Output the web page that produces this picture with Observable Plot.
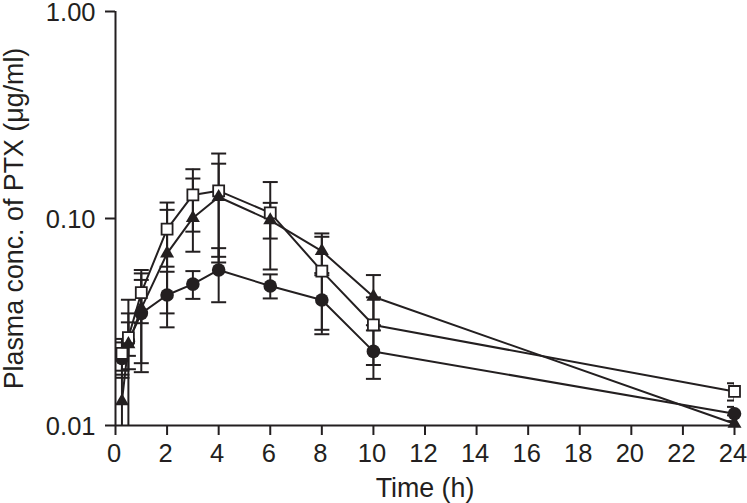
<!DOCTYPE html>
<html>
<head>
<meta charset="utf-8">
<script src="https://cdn.jsdelivr.net/npm/d3@7"></script>
<script src="https://cdn.jsdelivr.net/npm/@observablehq/plot@0.6"></script>
<style>
  html, body { margin: 0; padding: 0; background: #fff; }
</style>
</head>
<body>
<div id="chart"></div>
<script>
// Sampling times (h)
const times = [0.25, 0.5, 1, 2, 3, 4, 6, 8, 10, 24];

// Filled circles
const circleMean = [0.0211, 0.0255, 0.0348, 0.0427, 0.0482, 0.0564, 0.0472, 0.0404, 0.0228, 0.0114];
const circleLow  = [0.0170, 0.0187, 0.0181, 0.0298, 0.0409, 0.0394, 0.0411, 0.0276, 0.0168, 0.0105];
const circleHigh = [0.0252, 0.0348, 0.0505, 0.0553, 0.0557, 0.0719, 0.0537, 0.0532, 0.0288, 0.0123];

// Open squares
const squareMean = [0.0223, 0.0266, 0.0438, 0.0889, 0.1300, 0.1360, 0.1065, 0.0557, 0.0306, 0.0146];
const squareLow  = [0.0184, 0.0217, 0.0312, 0.0585, 0.0864, 0.0653, 0.0567, 0.0290, 0.0196, 0.0132];
const squareHigh = [0.0262, 0.0315, 0.0564, 0.1194, 0.1730, 0.2060, 0.1500, 0.0816, 0.0416, 0.0160];

// Filled triangles
const triangleMean = [0.0131, 0.0247, 0.0368, 0.0678, 0.1006, 0.1270, 0.0980, 0.0696, 0.0419, 0.0102];
const triangleLow  = [0.0040, 0.0040, 0.0200, 0.0348, 0.0691, 0.0613, 0.0800, 0.0545, 0.0305, 0.0080];
const triangleHigh = [0.0176, 0.0405, 0.0543, 0.1101, 0.1560, 0.1840, 0.1190, 0.0847, 0.0533, 0.0112];

// Axis ticks and labels
const xTicks = [0, 2, 4, 6, 8, 10, 12, 14, 16, 18, 20, 22, 24];
const yTicks = [0.01, 0.1, 1];
const xTitle = "Time (h)";
const yTitle = "Plasma conc. of PTX (μg/ml)";

const seriesDefs = [
  {key: "circle", mean: circleMean, low: circleLow, high: circleHigh},
  {key: "square", mean: squareMean, low: squareLow, high: squareHigh},
  {key: "triangle", mean: triangleMean, low: triangleLow, high: triangleHigh}
];
const rows = [];
seriesDefs.forEach(s => times.forEach((t, i) => rows.push({series: s.key, t, v: s.mean[i], lo: s.low[i], hi: s.high[i]})));
const of = k => rows.filter(d => d.series === k);

const ink = "#231f20";
const capSymbol = {
  draw(ctx, size) {
    const r = Math.sqrt(size / Math.PI);
    ctx.moveTo(-r, 0);
    ctx.lineTo(r, 0);
  }
};

const chart = Plot.plot({
  width: 747,
  height: 503,
  marginLeft: 115,
  marginRight: 13,
  marginTop: 11,
  marginBottom: 78,
  style: {fontFamily: "'Liberation Sans', Arial, Helvetica, sans-serif", fontSize: "25.5px", color: ink, background: "#fff"},
  x: {domain: [0, 24], axis: null},
  y: {type: "log", domain: [0.01, 1], axis: null},
  marks: [
    // error bars
    Plot.ruleX(rows, {x: "t", y1: "lo", y2: "hi", stroke: ink, strokeWidth: 2, clip: true}),
    Plot.dot(rows, {x: "t", y: "lo", symbol: capSymbol, r: 7.5, fill: "none", stroke: ink, strokeWidth: 2, clip: true}),
    Plot.dot(rows, {x: "t", y: "hi", symbol: capSymbol, r: 7.5, fill: "none", stroke: ink, strokeWidth: 2, clip: true}),
    // connecting lines
    Plot.line(rows, {x: "t", y: "v", z: "series", stroke: ink, strokeWidth: 2}),
    // markers
    Plot.dot(of("circle"), {x: "t", y: "v", symbol: "circle", r: 6.8, fill: ink, stroke: "none"}),
    Plot.dot(of("square"), {x: "t", y: "v", symbol: "square", r: 6.2, fill: "#fff", stroke: ink, strokeWidth: 1.8}),
    Plot.dot(of("triangle"), {x: "t", y: "v", symbol: "triangle", r: 5.2, fill: ink, stroke: "none"}),
    // axis lines
    Plot.ruleX([0], {stroke: ink, strokeWidth: 2}),
    Plot.ruleY([0.01], {stroke: ink, strokeWidth: 2}),
    // axis ticks
    Plot.axisX({ticks: xTicks, tickSize: 10, text: null, label: null, stroke: ink, strokeWidth: 2}),
    Plot.axisY({ticks: yTicks, tickSize: 10, text: null, label: null, stroke: ink, strokeWidth: 2}),
    // axis tick labels
    Plot.axisX({ticks: xTicks, tickSize: 0, tickPadding: 18, label: null, fill: ink, dx: -1.5}),
    Plot.axisY({ticks: yTicks, tickSize: 0, tickPadding: 20, tickFormat: d3.format(".2f"), label: null, fill: ink, dy: 1.8}),
    // axis titles
    Plot.text([xTitle], {frameAnchor: "bottom", dy: 63, lineAnchor: "middle", textAnchor: "middle", fontSize: 26.8, fill: ink}),
    Plot.text([yTitle], {frameAnchor: "left", dx: -101, rotate: -90, lineAnchor: "middle", textAnchor: "middle", fontSize: 26.8, fill: ink})
  ]
});
document.getElementById("chart").appendChild(chart);
</script>
</body>
</html>
